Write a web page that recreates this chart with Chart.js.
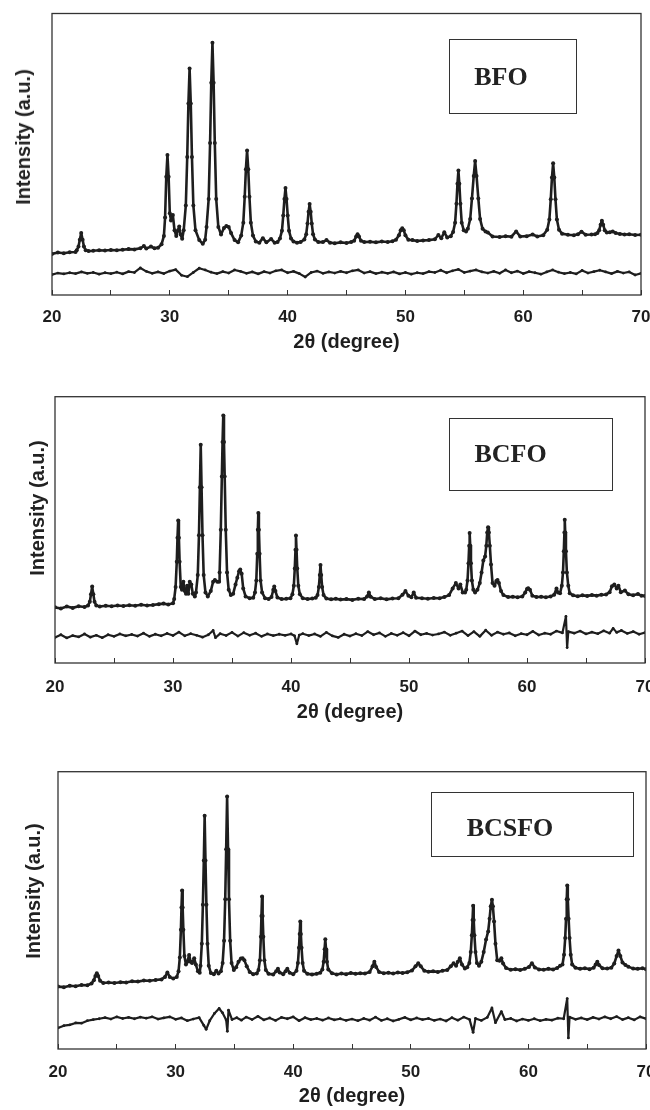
<!DOCTYPE html>
<html><head><meta charset="utf-8">
<script src="https://cdn.jsdelivr.net/npm/chart.js@4.4.1/dist/chart.umd.min.js"></script>
<style>
html,body{margin:0;padding:0;background:#fff;}
body{width:650px;height:1110px;position:relative;overflow:hidden;}
canvas{position:absolute;left:0;}
.ytitle{position:absolute;font:bold 20px "Liberation Sans",Arial,sans-serif;line-height:24px;color:#222;white-space:nowrap;transform:translate(-50%,-50%) rotate(-90deg);}
.box{position:absolute;border:1.5px solid #333;box-sizing:border-box;}
.lbl{position:absolute;font:bold 26px "Liberation Serif","Times New Roman",serif;line-height:26px;color:#222;white-space:nowrap;transform:translateX(-50%);}
</style></head>
<body>
<canvas id="c1" width="650" height="354" style="top:0px"></canvas>
<canvas id="c2" width="650" height="370" style="top:354px"></canvas>
<canvas id="c3" width="650" height="384" style="top:724px"></canvas>
<div class="ytitle" style="left:22.5px;top:137px">Intensity (a.u.)</div>
<div class="ytitle" style="left:36.6px;top:507.5px">Intensity (a.u.)</div>
<div class="ytitle" style="left:32.5px;top:891px">Intensity (a.u.)</div>
<div class="box" style="left:449px;top:39px;width:128px;height:75px"></div>
<div class="box" style="left:449px;top:418px;width:164px;height:73px"></div>
<div class="box" style="left:431px;top:792px;width:203px;height:65px"></div>
<div class="lbl" style="left:501px;top:64px">BFO</div>
<div class="lbl" style="left:510.5px;top:441px">BCFO</div>
<div class="lbl" style="left:510px;top:815px">BCSFO</div>
<script>
// ---- data (2θ in degrees, intensity in arbitrary units 0-100) ----
const xTicksLabelled = [20, 30, 40, 50, 60, 70];
const xTitle = '2θ (degree)';
const sampleNames = ['BFO', 'BCFO', 'BCSFO'];

const bfoObs = [[20,14.6],[20.5,15.1],[21,14.8],[21.5,15.2],[22,15.3],[22.1,15.9],[22.25,17.2],[22.36,19.6],[22.48,22.0],[22.6,19.6],[22.71,17.2],[22.86,15.9],[23.1,15.6],[23.5,15.7],[24,15.9],[24.5,15.8],[25,16.0],[25.5,15.9],[26,16.1],[26.5,16.3],[27,16.2],[27.5,16.6],[27.8,17.4],[28,16.5],[28.4,17.2],[28.7,16.6],[29,16.8],[29.3,18.0],[29.5,21],[29.6,27.5],[29.7,42],[29.8,49.7],[29.9,42],[30.0,29],[30.1,26.5],[30.26,28.4],[30.4,23],[30.55,21],[30.7,23.0],[30.8,24.3],[30.92,21.5],[31.05,20.0],[31.18,23],[31.36,31.8],[31.48,49],[31.58,68],[31.68,80.5],[31.78,68],[31.88,49],[32.0,31.8],[32.18,23],[32.5,19.5],[32.8,18.2],[33.0,19.6],[33.12,24.2],[33.3,34.1],[33.42,54],[33.52,75.4],[33.62,89.6],[33.72,75.4],[33.82,54],[33.94,34.1],[34.12,24.2],[34.35,21.5],[34.6,23.8],[34.8,24.5],[35.0,24.2],[35.2,22],[35.5,19.5],[35.8,18.7],[36.06,21.1],[36.24,25.7],[36.36,34.9],[36.46,44.7],[36.56,51.3],[36.66,44.7],[36.76,34.9],[36.88,25.7],[37.06,21.1],[37.3,19],[37.6,18.6],[37.9,20.2],[38.2,18.7],[38.6,19.9],[38.9,18.6],[39.15,18.8],[39.35,20.1],[39.52,22.8],[39.63,28.2],[39.73,34.1],[39.82,38.0],[39.91,34.1],[40.01,28.2],[40.12,22.8],[40.29,20.1],[40.5,19.0],[40.8,18.6],[41.1,18.8],[41.42,19.7],[41.58,21.6],[41.69,25.4],[41.78,29.6],[41.87,32.3],[41.96,29.6],[42.05,25.4],[42.16,21.6],[42.32,19.7],[42.6,18.8],[43,18.8],[43.3,19.5],[43.6,18.6],[44,18.4],[44.5,18.7],[45,18.5],[45.4,18.8],[45.65,19.3],[45.82,20.8],[45.94,21.6],[46.06,20.8],[46.23,19.3],[46.5,18.8],[47,18.9],[47.5,18.7],[48,19.0],[48.5,18.8],[48.9,19.1],[49.2,19.6],[49.45,21.2],[49.6,23],[49.73,23.7],[49.86,23],[50.0,21.2],[50.25,19.6],[50.6,19.5],[51,19.2],[51.5,19.4],[52,19.5],[52.5,19.8],[52.8,21.3],[53.05,20.2],[53.3,22.3],[53.55,20.4],[53.85,20.9],[54.05,22.4],[54.22,25.7],[54.33,32.4],[54.42,39.5],[54.5,44.2],[54.58,39.5],[54.67,32.4],[54.78,25.7],[54.95,23],[55.15,22.6],[55.3,23.5],[55.5,27],[55.65,34.3],[55.8,42.3],[55.92,47.6],[56.04,42.3],[56.19,34.3],[56.34,27],[56.55,23.5],[56.8,22.6],[57.0,22.2],[57.4,20.8],[58,20.6],[58.5,20.9],[59,20.7],[59.4,22.6],[59.75,20.8],[60.3,20.9],[60.8,21.5],[61.2,20.8],[61.7,21.2],[62.04,23.2],[62.22,26.8],[62.34,34],[62.44,41.7],[62.54,46.8],[62.64,41.7],[62.74,34],[62.86,26.8],[63.04,23.2],[63.3,21.8],[63.8,21.4],[64.3,21.2],[64.65,21.6],[64.95,22.5],[65.3,21.4],[65.8,21.5],[66.1,21.6],[66.3,22],[66.45,23],[66.57,25],[66.68,26.4],[66.79,25],[66.92,23],[67.1,22.2],[67.35,22.3],[67.6,22.6],[67.85,22],[68.2,21.7],[68.6,21.5],[69,21.6],[69.5,21.3],[70,21.4]];

const bfoDiff = [[20,7.2],[20.5,7.8],[21,7.5],[21.5,7.9],[22,7.6],[22.5,8.2],[23,7.7],[23.5,8.0],[24,7.4],[24.5,7.9],[25,7.6],[25.5,8.1],[26,7.5],[26.5,8.3],[27,8.0],[27.5,9.6],[28,8.4],[28.5,7.7],[29,8.2],[29.5,7.6],[30,8.5],[30.5,9.0],[31,7.0],[31.5,6.5],[32,8.0],[32.5,9.5],[33,8.9],[33.5,8.1],[34,7.6],[34.5,8.3],[35,7.8],[35.5,8.9],[36,8.4],[36.5,7.7],[37,8.2],[37.5,7.5],[38,8.3],[38.5,7.8],[39,8.6],[39.5,8.9],[40,7.9],[40.5,8.4],[41,7.6],[41.5,6.4],[42,8.0],[42.5,8.5],[43,7.7],[43.5,8.2],[44,7.8],[44.5,8.4],[45,7.9],[45.5,8.6],[46,8.9],[46.5,7.8],[47,8.3],[47.5,7.6],[48,8.1],[48.5,7.7],[49,8.2],[49.5,7.5],[50,8.0],[50.5,7.4],[51,7.9],[51.5,7.6],[52,8.3],[52.5,8.0],[53,8.8],[53.5,7.9],[54,8.6],[54.5,9.1],[55,8.0],[55.5,8.5],[56,8.9],[56.5,8.2],[57,7.8],[57.5,8.4],[58,7.7],[58.5,8.9],[59,7.9],[59.5,8.5],[60,7.6],[60.5,8.3],[61,7.9],[61.5,7.4],[62,8.2],[62.5,8.9],[63,8.1],[63.5,7.6],[64,8.0],[64.5,7.5],[65,8.7],[65.5,7.8],[66,8.3],[66.5,8.8],[67,8.2],[67.5,7.6],[68,8.4],[68.5,7.8],[69,8.2],[69.5,7.1],[70,7.7]];

const bcfoObs = [[20,20.9],[20.5,20.5],[21,21.2],[21.5,20.7],[22,21.3],[22.5,21.0],[22.8,21.6],[22.95,23.0],[23.05,25.8],[23.15,28.7],[23.25,25.8],[23.35,23.0],[23.5,21.6],[23.8,21.2],[24.3,21.5],[24.8,21.3],[25.3,21.6],[25.8,21.4],[26.3,21.7],[26.8,21.5],[27.3,21.9],[27.8,21.6],[28.3,21.8],[28.8,22.1],[29.2,22.3],[29.6,22.0],[30.0,22.4],[30.1,24.0],[30.22,28.5],[30.32,38],[30.38,47],[30.44,53.5],[30.5,47],[30.56,38],[30.66,28.5],[30.76,27.5],[30.88,30.5],[31.0,27],[31.1,26],[31.2,29],[31.3,26],[31.42,30.5],[31.55,29.5],[31.68,26.0],[31.85,25.0],[31.95,26.5],[32.1,33],[32.2,48],[32.28,66],[32.35,82.0],[32.42,66],[32.5,48],[32.6,33],[32.75,26.5],[32.95,25.0],[33.2,27],[33.4,30.5],[33.55,31.2],[33.75,30.5],[33.9,30.5],[33.95,34],[34.05,50],[34.14,70],[34.2,83],[34.26,92.9],[34.32,83],[34.38,70],[34.47,50],[34.58,34],[34.72,27.5],[34.9,25.5],[35.1,26.0],[35.3,29.5],[35.45,32],[35.6,34.5],[35.7,35.1],[35.82,33.5],[35.95,28],[36.15,25],[36.5,24.3],[36.8,24.5],[36.95,26.5],[37.06,31],[37.14,41],[37.19,50],[37.23,56.3],[37.28,50],[37.34,41],[37.42,31],[37.55,26.5],[37.8,24.3],[38.1,24.0],[38.35,24.8],[38.5,27.5],[38.58,28.7],[38.68,27.0],[38.85,24.6],[39.2,24.0],[39.6,24.1],[39.95,24.3],[40.12,25.8],[40.24,29],[40.32,35.5],[40.38,42.5],[40.42,47.9],[40.47,42.5],[40.53,35.5],[40.62,29],[40.75,25.8],[41.0,24.3],[41.4,24.0],[41.8,24.2],[42.1,24.5],[42.25,25.5],[42.36,28.5],[42.44,33],[42.5,36.8],[42.56,33],[42.64,28.5],[42.76,25.5],[43.0,24.2],[43.4,23.9],[43.8,24.1],[44.2,23.8],[44.7,24.0],[45.2,23.7],[45.7,24.1],[46.2,24.0],[46.45,25.0],[46.6,26.5],[46.75,24.9],[47.1,24.0],[47.6,24.3],[48.1,23.9],[48.6,24.2],[49.1,24.3],[49.45,25.6],[49.7,27.0],[49.95,25.3],[50.2,24.7],[50.4,26.5],[50.6,24.5],[51.1,24.3],[51.6,24.1],[52.1,24.4],[52.6,24.3],[53.0,24.8],[53.4,25.5],[53.7,28],[53.97,30.0],[54.2,28],[54.35,29.5],[54.55,26.5],[54.75,26.5],[54.85,27.5],[54.96,31],[55.04,37.5],[55.1,44],[55.14,48.8],[55.19,44],[55.25,37.5],[55.33,31],[55.45,27.5],[55.6,26.5],[55.8,27.5],[56.0,30],[56.15,34],[56.3,38.5],[56.45,40.0],[56.55,44],[56.63,49],[56.7,51.0],[56.77,49],[56.85,44],[56.95,37],[57.08,30],[57.25,29],[57.4,30.8],[57.5,31.2],[57.62,30],[57.8,27],[58.0,25.5],[58.4,24.8],[58.8,24.9],[59.2,24.7],[59.6,25.0],[59.85,26.5],[60.0,27.8],[60.1,28.1],[60.25,27.5],[60.45,25.3],[60.8,24.8],[61.2,24.9],[61.6,24.7],[62.0,25.0],[62.3,25.6],[62.5,28.0],[62.62,26.5],[62.8,26.2],[62.95,29],[63.05,34],[63.12,42],[63.17,49],[63.2,53.8],[63.24,49],[63.3,42],[63.38,34],[63.5,29],[63.62,26.2],[63.9,25.4],[64.3,25.1],[64.7,25.4],[65.1,25.2],[65.5,25.5],[65.9,25.3],[66.3,25.6],[66.7,25.7],[67.0,26.6],[67.2,28.8],[67.4,29.5],[67.6,28.0],[67.75,29.0],[67.95,26.6],[68.3,27.2],[68.6,25.8],[69.0,25.4],[69.4,25.9],[69.7,25.3],[70,25.2]];

const bcfoDiff = [[20,9.6],[20.5,10.6],[21,9.4],[21.5,10.3],[22,9.8],[22.5,10.9],[23,9.7],[23.5,10.4],[24,9.5],[24.5,10.6],[25,10.0],[25.5,10.9],[26,10.2],[26.5,10.7],[27,10.1],[27.5,11.2],[28,10.0],[28.5,10.8],[29,10.2],[29.5,11.1],[30,10.3],[30.5,11.6],[31,10.2],[31.5,11.0],[32,10.4],[32.5,9.7],[33,10.6],[33.4,12.2],[33.6,9.5],[34,11.0],[34.5,10.3],[35,11.5],[35.5,10.1],[36,11.4],[36.5,10.4],[37,11.2],[37.5,10.0],[38,10.9],[38.5,10.3],[39,10.8],[39.5,10.4],[40,10.9],[40.3,10.2],[40.5,7.2],[40.7,10.5],[41,11.0],[41.5,10.3],[42,10.9],[42.5,10.0],[43,11.5],[43.5,10.2],[44,9.6],[44.5,10.8],[45,10.1],[45.5,11.0],[46,10.3],[46.5,11.8],[47,10.6],[47.5,11.3],[48,10.0],[48.5,11.1],[49,10.4],[49.5,11.4],[50,10.2],[50.5,12.0],[51,10.6],[51.5,11.1],[52,10.5],[52.5,10.9],[53,11.6],[53.5,10.4],[54,11.2],[54.5,12.0],[55,10.3],[55.5,11.8],[56,10.0],[56.5,12.3],[57,10.4],[57.5,11.6],[58,10.8],[58.5,11.3],[59,10.2],[59.5,11.0],[60,10.6],[60.5,11.9],[61,10.5],[61.5,11.2],[62,10.8],[62.5,12.0],[63,11.3],[63.3,17.5],[63.4,5.8],[63.5,11.8],[64,11.2],[64.5,12.0],[65,10.9],[65.5,11.6],[66,11.0],[66.5,12.1],[67,11.2],[67.3,13.0],[67.6,11.5],[68,12.2],[68.5,11.1],[69,11.8],[69.5,10.8],[70,11.4]];

const bcsfoObs = [[20,22.5],[20.5,22.3],[21,22.8],[21.5,22.6],[22,23.1],[22.5,23.0],[22.85,23.6],[23.05,24.8],[23.18,26.3],[23.3,27.3],[23.42,26.3],[23.58,24.6],[23.85,23.8],[24.3,24.0],[24.8,23.8],[25.3,24.1],[25.8,24.0],[26.3,24.4],[26.8,24.3],[27.3,24.7],[27.8,24.6],[28.3,24.9],[28.8,25.1],[29.1,26.0],[29.3,27.6],[29.5,26.0],[29.8,25.4],[30.1,26.0],[30.25,28],[30.36,33],[30.45,43],[30.5,51],[30.55,57.2],[30.6,51],[30.66,43],[30.75,33.5],[30.88,30.5],[31.0,31.5],[31.15,33.9],[31.28,31.5],[31.4,31],[31.58,32.7],[31.72,30.5],[31.9,28],[32.05,27.5],[32.12,30],[32.23,38],[32.32,52],[32.4,68],[32.47,84.1],[32.54,68],[32.62,52],[32.71,38],[32.82,30],[33.0,27.4],[33.25,27.0],[33.46,28.2],[33.65,27.2],[33.85,28],[34.0,31],[34.12,39],[34.22,54],[34.3,72],[34.38,91.1],[34.46,72],[34.54,54],[34.64,39],[34.76,31],[34.95,28.5],[35.15,29.5],[35.35,31.5],[35.55,32.6],[35.7,32.7],[35.85,32.0],[36.05,29.8],[36.3,27.8],[36.6,27.0],[36.9,27.2],[37.05,28.5],[37.17,32],[37.25,40.5],[37.3,48],[37.35,55.0],[37.4,48],[37.46,40.5],[37.55,32],[37.67,28.5],[37.9,27.1],[38.3,26.9],[38.55,28.0],[38.7,28.9],[38.85,27.6],[39.15,27.0],[39.35,28.0],[39.5,28.9],[39.7,27.5],[40.0,27.0],[40.28,28.2],[40.4,31],[40.49,36.5],[40.55,41.5],[40.6,46.0],[40.65,41.5],[40.71,36.5],[40.8,31],[40.92,28.2],[41.2,27.1],[41.6,26.9],[42.0,27.1],[42.3,27.5],[42.48,28.7],[42.59,31.5],[42.67,36],[42.73,39.6],[42.79,36],[42.87,31.5],[42.98,28.7],[43.3,27.3],[43.7,26.9],[44.1,27.2],[44.5,27.0],[44.9,27.4],[45.3,27.1],[45.7,27.3],[46.1,27.2],[46.5,27.8],[46.75,29.8],[46.9,31.5],[47.05,29.6],[47.3,27.8],[47.7,27.3],[48.1,27.5],[48.5,27.2],[48.9,27.6],[49.3,27.4],[49.7,27.7],[50.1,28.3],[50.4,29.8],[50.63,30.9],[50.85,29.8],[51.15,28.2],[51.5,27.9],[51.9,28.0],[52.3,27.8],[52.7,28.2],[53.1,28.5],[53.4,29.8],[53.64,30.9],[53.85,30.0],[54.0,31.5],[54.17,32.7],[54.35,30.5],[54.6,29.0],[54.8,29.5],[54.98,31],[55.1,35],[55.19,41],[55.25,46.5],[55.3,51.7],[55.35,46.5],[55.41,41],[55.5,35],[55.62,31],[55.8,30.0],[56.0,31.5],[56.2,35],[56.4,39.5],[56.58,42.4],[56.7,47],[56.8,51.5],[56.9,53.8],[56.98,51.5],[57.08,46],[57.2,38],[57.35,32],[57.55,31.8],[57.7,32.7],[57.85,30.8],[58.1,29.2],[58.5,28.6],[58.9,28.8],[59.3,28.5],[59.7,28.9],[60.05,29.6],[60.3,30.9],[60.55,29.4],[60.9,28.7],[61.3,28.6],[61.7,28.9],[62.1,28.7],[62.45,29.2],[62.7,30],[62.9,30.5],[63.03,34],[63.13,40],[63.2,47],[63.26,54],[63.3,59.0],[63.35,54],[63.42,47],[63.5,40],[63.6,34],[63.72,30.5],[64.0,29.3],[64.4,28.9],[64.8,29.1],[65.2,28.8],[65.55,29.3],[65.72,30.5],[65.86,31.5],[66.0,30.3],[66.3,29.1],[66.7,29.0],[67.05,29.3],[67.3,30.8],[67.5,33.5],[67.66,35.5],[67.82,33.5],[68.0,31.2],[68.25,30.3],[68.5,29.7],[68.9,29.0],[69.3,28.9],[69.7,29.1],[70,28.8]];

const bcsfoDiff = [[20,7.6],[20.5,8.4],[21,8.7],[21.5,9.4],[22,9.3],[22.5,10.2],[23,10.6],[23.5,10.9],[24,11.3],[24.5,10.8],[25,11.6],[25.5,11.0],[26,11.4],[26.5,10.9],[27,11.5],[27.5,11.1],[28,11.6],[28.5,10.8],[29,11.2],[29.5,11.6],[30,10.7],[30.5,11.2],[31,10.2],[31.5,10.8],[32,11.3],[32.4,8.5],[32.6,7.1],[32.9,10.2],[33.3,12.8],[33.7,14.6],[34.0,13.0],[34.3,10.5],[34.4,6.4],[34.5,14.0],[34.8,10.6],[35.2,11.3],[35.6,10.4],[36,11.5],[36.5,10.6],[37,11.8],[37.5,10.5],[38,11.2],[38.5,10.3],[39,11.4],[39.5,10.9],[40,11.6],[40.5,10.2],[41,11.3],[41.5,10.6],[42,11.0],[42.5,10.4],[43,11.2],[43.5,10.5],[44,10.9],[44.5,10.3],[45,10.8],[45.5,10.2],[46,11.0],[46.5,10.4],[47,11.5],[47.5,10.3],[48,10.9],[48.5,10.1],[49,10.7],[49.5,11.4],[50,10.5],[50.5,11.2],[51,10.6],[51.5,11.0],[52,10.3],[52.5,10.8],[53,10.1],[53.5,11.3],[54,10.4],[54.5,11.5],[55,10.6],[55.3,6.0],[55.5,11.0],[56,10.3],[56.5,11.4],[56.9,14.8],[57.2,9.5],[57.7,13.5],[58,10.6],[58.5,11.0],[59,10.1],[59.5,10.8],[60,10.3],[60.5,10.9],[61,10.2],[61.5,10.7],[62,10.4],[62.5,11.1],[63,10.9],[63.3,18.2],[63.4,4.0],[63.5,11.5],[64,10.7],[64.5,11.2],[65,10.6],[65.5,11.4],[66,10.8],[66.5,11.6],[67,10.9],[67.5,11.7],[68,10.6],[68.5,11.3],[69,10.5],[69.5,11.6],[70,10.9]];

// ---- drawing ----
const toXY = a => a.map(p => ({x: p[0], y: p[1]}));
const INK = '#1e1e1e';
const framePlugin = {
  id: 'frame',
  afterDatasetsDraw(chart) {
    const {ctx, chartArea: a} = chart;
    ctx.save();
    ctx.strokeStyle = '#333';
    ctx.lineWidth = 1.3;
    ctx.strokeRect(a.left, a.top, a.right - a.left, a.bottom - a.top);
    ctx.restore();
  }
};

function makeChart(id, obs, diff, g) {
  new Chart(document.getElementById(id), {
    type: 'line',
    data: {
      datasets: [
        {data: toXY(obs), borderColor: INK, borderWidth: 2.6, pointRadius: 2.0, pointBackgroundColor: INK, pointBorderWidth: 0, tension: 0, borderJoinStyle: 'round'},
        {data: toXY(diff), borderColor: INK, borderWidth: 2.2, pointRadius: 1.4, pointBackgroundColor: INK, pointBorderWidth: 0, tension: 0, borderJoinStyle: 'round'}
      ]
    },
    options: {
      responsive: false, animation: false, devicePixelRatio: 1,
      layout: {padding: {top: g.top, right: g.right, left: 0, bottom: 0}},
      plugins: {legend: {display: false}, tooltip: {enabled: false}},
      scales: {
        x: {
          type: 'linear', min: 20, max: 70,
          ticks: {stepSize: 5, autoSkip: false, maxRotation: 0, padding: g.tickPad, color: INK,
            font: {family: '"Liberation Sans", Arial, sans-serif', size: 17, weight: 'bold'},
            callback: v => xTicksLabelled.includes(v) ? String(v) : ''},
          grid: {display: true, drawOnChartArea: false, drawTicks: true, tickLength: -5, color: '#333', lineWidth: 1},
          border: {display: false},
          title: {display: true, text: xTitle, color: INK, padding: 0,
            font: {family: '"Liberation Sans", Arial, sans-serif', size: 20, weight: 'bold'}},
          afterFit: s => { s.height = g.xh; s.paddingLeft = 0; s.paddingRight = 0; }
        },
        y: {
          type: 'linear', min: 0, max: 100,
          ticks: {display: false}, grid: {display: false}, border: {display: false},
          afterFit: s => { s.width = g.left; s.paddingTop = 0; s.paddingBottom = 0; }
        }
      }
    },
    plugins: [framePlugin]
  });
}

makeChart('c1', bfoObs, bfoDiff, {top: 13.5, right: 9, left: 52, xh: 59, tickPad: 16.8});
makeChart('c2', bcfoObs, bcfoDiff, {top: 42.7, right: 5, left: 55, xh: 61, tickPad: 19.3});
makeChart('c3', bcsfoObs, bcsfoDiff, {top: 47.7, right: 3, left: 58, xh: 59, tickPad: 18.3});
</script>
</body></html>
